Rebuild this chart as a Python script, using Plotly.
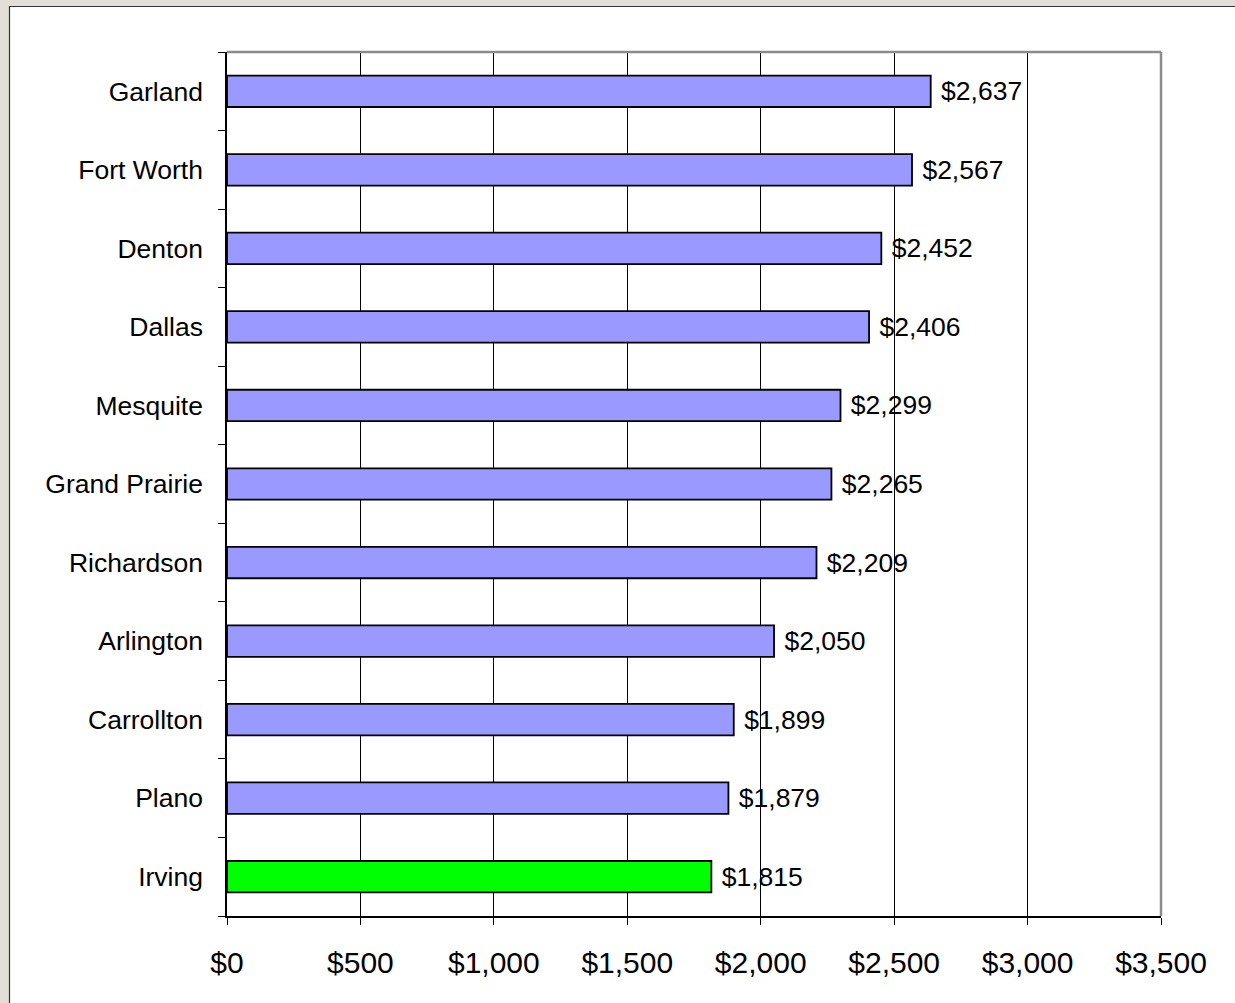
import plotly.graph_objects as go

# Cities listed top to bottom, with their values in dollars
cities = ["Garland", "Fort Worth", "Denton", "Dallas", "Mesquite", "Grand Prairie",
          "Richardson", "Arlington", "Carrollton", "Plano", "Irving"]
values = [2637, 2567, 2452, 2406, 2299, 2265, 2209, 2050, 1899, 1879, 1815]
highlight = "Irving"

tick_vals = [0, 500, 1000, 1500, 2000, 2500, 3000, 3500]
tick_text = ["$0", "$500", "$1,000", "$1,500", "$2,000", "$2,500", "$3,000", "$3,500"]

W, H = 1235, 1003
ML, MR, MT, MB = 227, 74, 52, 87
FONT = "Liberation Sans, Arial, sans-serif"

colors = ["#00FF00" if c == highlight else "#9999FF" for c in cities]
labels = [" ${:,}".format(v) for v in values]

fig = go.Figure(go.Bar(
    x=values, y=cities, orientation="h",
    marker=dict(color=colors, line=dict(color="black", width=1.8)),
    width=0.4,
    text=labels, textposition="outside", cliponaxis=False,
    textfont=dict(family=FONT, size=26.5, color="black"),
    hoverinfo="skip",
))

# Plot-area size in pixels, used to place the frame shapes in paper units
pw = W - ML - MR
ph = H - MT - MB

def px_x(p):
    return (p - ML) / pw

def px_y(p):
    return 1 - (p - MT) / ph

shapes = [
    # beige backdrop and white panel with dark edge
    dict(type="rect", xref="paper", yref="paper", layer="below",
         x0=px_x(0), x1=px_x(W + 5), y0=px_y(H + 5), y1=px_y(0),
         fillcolor="#E3DED7", line=dict(width=0)),
    dict(type="rect", xref="paper", yref="paper", layer="below",
         x0=px_x(9.5), x1=px_x(W + 20), y0=px_y(H + 20), y1=px_y(6.5),
         fillcolor="white", line=dict(color="#333333", width=1.2)),
    # grey top and right frame of the plot area
    dict(type="line", xref="paper", yref="paper", x0=0, x1=1, y0=1, y1=1,
         line=dict(color="#8C8C8C", width=2.5)),
    dict(type="line", xref="paper", yref="paper", x0=1, x1=1, y0=0, y1=1,
         line=dict(color="#8C8C8C", width=2.5)),
]

fig.update_layout(
    width=W, height=H,
    margin=dict(l=ML, r=MR, t=MT, b=MB, pad=0),
    paper_bgcolor="#E3DED7",
    plot_bgcolor="rgba(0,0,0,0)",
    showlegend=False,
    bargap=0.6,
    shapes=shapes,
    xaxis=dict(
        range=[0, 3500], tickvals=tick_vals, ticktext=tick_text,
        showgrid=True, gridcolor="black", gridwidth=1,
        showline=True, linecolor="black", linewidth=1.5,
        ticks="outside", ticklen=7, tickcolor="black", tickwidth=1,
        tickfont=dict(family=FONT, size=30, color="black"),
        ticklabelstandoff=12,
        zeroline=False, fixedrange=True,
    ),
    yaxis=dict(
        categoryorder="array", categoryarray=list(reversed(cities)),
        showgrid=False,
        showline=True, linecolor="black", linewidth=1.5,
        ticks="outside", ticklen=7, tickcolor="black", tickwidth=1,
        tickson="boundaries",
        tickfont=dict(family=FONT, size=26.5, color="black"),
        ticklabelstandoff=17,
        fixedrange=True,
    ),
)

fig.write_html("out.html")
